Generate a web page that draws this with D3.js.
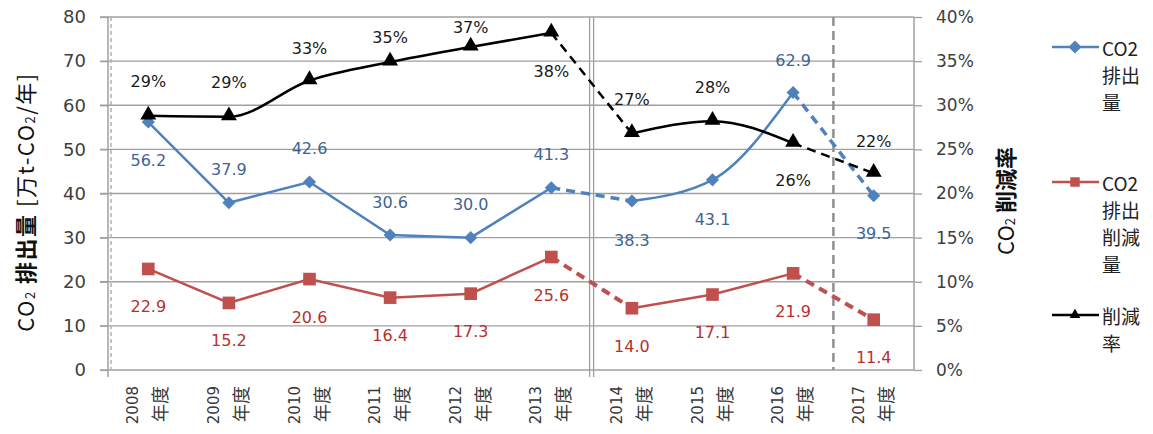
<!DOCTYPE html>
<html>
<head>
<meta charset="utf-8">
<script src="https://cdn.jsdelivr.net/npm/d3@7"></script>
<style>
  body { margin: 0; background: #fff; }
  svg { display: block; }
  .num { font-family: "DejaVu Sans", sans-serif; }
  .jp { font-family: "Noto Sans CJK JP", sans-serif; }
</style>
</head>
<body>
<svg id="chart" width="1153" height="434"></svg>
<script>
// --- data ---
const years = ['2008', '2009', '2010', '2011', '2012', '2013', '2014', '2015', '2016', '2017'];
const emission = [56.2, 37.9, 42.6, 30.6, 30.0, 41.3, 38.3, 43.1, 62.9, 39.5];   // CO2排出量
const reduction = [22.9, 15.2, 20.6, 16.4, 17.3, 25.6, 14.0, 17.1, 21.9, 11.4];  // CO2排出削減量
const rate = [28.8, 28.7, 32.8, 34.9, 36.6, 38.2, 26.8, 28.2, 25.7, 22.3];        // 削減率 (%)
const leftTicks = [0, 10, 20, 30, 40, 50, 60, 70, 80];
const rightTicks = [0, 5, 10, 15, 20, 25, 30, 35, 40];

// solid / dashed pieces of every series (index ranges)
const segments = [
    { idx: [0, 1, 2, 3, 4, 5], dashed: false },
    { idx: [5, 6], dashed: true },
    { idx: [6, 7, 8], dashed: false },
    { idx: [8, 9], dashed: true }
];

// label offsets from the marker (px)
const emissionLabelDy = [38, -33, -34, -32, -33, -33, 39, 40, -32, 38];
const reductionLabelDy = [38, 38, 38, 38, 38, 38, 38, 38, 38, 38];
const rateLabelDy = [-34, -34, -32, -25, -20, 39, -34, -34, 37, -32];

const BLUE = '#4F81BD', BLUE_TXT = '#3F6494';
const RED = '#C0504D', RED_TXT = '#B7312C';
const GRID = '#a0a0a0';

const svg = d3.select('#chart');
const plotL = 108, plotR = 914, plotT = 17, plotB = 370;

const x = d3.scalePoint().domain(years).range([plotL, plotR]).padding(0.5);
const step = x.step();
const yL = d3.scaleLinear().domain([0, 80]).range([plotB, plotT]);
const yR = d3.scaleLinear().domain([0, 40]).range([plotB, plotT]);

// grid lines
svg.append('g').selectAll('line').data(leftTicks).join('line')
    .attr('x1', plotL - 8).attr('x2', plotR)
    .attr('y1', d => yL(d)).attr('y2', d => yL(d))
    .attr('stroke', GRID).attr('stroke-width', 1.3);

// left axis
const gL = svg.append('g').attr('transform', `translate(${plotL},0)`)
    .call(d3.axisLeft(yL).tickValues(leftTicks).tickSize(8).tickPadding(14));
gL.select('.domain').attr('stroke', GRID).attr('stroke-width', 1.5).attr('d', `M0,${plotT}V${plotB + 7}`);
gL.selectAll('.tick line').attr('stroke', GRID).attr('stroke-width', 1.3);
gL.selectAll('text').attr('class', 'num').attr('font-size', 18).attr('fill', '#404040');
svg.append('line').attr('x1', plotL + 3).attr('x2', plotL + 3).attr('y1', plotT).attr('y2', plotB)
    .attr('stroke', '#b0b0b0').attr('stroke-width', 1.5).attr('stroke-dasharray', '4,3');

// right axis
const gR = svg.append('g').attr('transform', `translate(${plotR},0)`)
    .call(d3.axisRight(yR).tickValues(rightTicks).tickSize(8).tickPadding(14).tickFormat(d => d + '%'));
gR.select('.domain').attr('stroke', GRID).attr('stroke-width', 1.5).attr('d', `M0,${plotT}V${plotB}`);
gR.selectAll('.tick line').attr('stroke', GRID).attr('stroke-width', 1.3);
gR.selectAll('text').attr('class', 'num').attr('font-size', 17).attr('fill', '#404040');

// period separators
const sep1 = x('2013') + step / 2, sep2 = x('2016') + step / 2;
[-2, 2].forEach(o => {
    svg.append('line').attr('x1', sep1 + o).attr('x2', sep1 + o).attr('y1', plotT).attr('y2', plotB + 7)
        .attr('stroke', GRID).attr('stroke-width', 1.3);
});
svg.append('line').attr('x1', sep2).attr('x2', sep2).attr('y1', plotT).attr('y2', plotB)
    .attr('stroke', '#909090').attr('stroke-width', 2.5).attr('stroke-dasharray', '9,5');

// x labels: "2008" / "年度", rotated
const xl = svg.append('g');
years.forEach(yr => {
    const cx = x(yr);
    xl.append('text').attr('class', 'num')
        .attr('transform', `translate(${cx - 15},386) rotate(-90)`)
        .attr('text-anchor', 'end').attr('dominant-baseline', 'central')
        .attr('font-size', 15).attr('fill', '#383838').text(yr);
    xl.append('text').attr('class', 'jp')
        .attr('transform', `translate(${cx + 11},386) rotate(-90)`)
        .attr('text-anchor', 'end').attr('dominant-baseline', 'central')
        .attr('font-size', 18).attr('fill', '#383838').text('年度');
});

// axis titles
const tL = svg.append('text').attr('class', 'jp')
    .attr('transform', 'translate(24,202) rotate(-90)')
    .attr('text-anchor', 'middle').attr('dominant-baseline', 'central')
    .attr('font-size', 22).attr('letter-spacing', 1.5).attr('fill', '#111');
tL.append('tspan').text('CO');
tL.append('tspan').attr('font-size', 13).attr('dy', 5).text('2');
tL.append('tspan').attr('dy', -5).attr('font-weight', 'bold').text(' 排出量 ');
tL.append('tspan').text('[万t-CO');
tL.append('tspan').attr('font-size', 13).attr('dy', 5).text('2');
tL.append('tspan').attr('dy', -5).text('/年]');

const tR = svg.append('text').attr('class', 'jp')
    .attr('transform', 'translate(1004,201) rotate(-90)')
    .attr('text-anchor', 'middle').attr('dominant-baseline', 'central')
    .attr('font-size', 22).attr('fill', '#111');
tR.append('tspan').text('CO');
tR.append('tspan').attr('font-size', 13).attr('dy', 5).text('2');
tR.append('tspan').attr('dy', -5).attr('font-weight', 'bold').text(' 削減率');

// series lines
function drawSeries(values, y, color, width, dashW, curves) {
    const g = svg.append('g');
    segments.forEach((seg, s) => {
        const line = d3.line()
            .x(i => x(years[i])).y(i => y(values[i]))
            .curve(curves[s]);
        g.append('path').datum(seg.idx)
            .attr('d', line)
            .attr('fill', 'none')
            .attr('stroke', color)
            .attr('stroke-width', seg.dashed ? dashW : width)
            .attr('stroke-dasharray', seg.dashed ? '9,6' : null);
    });
    return g;
}
const lin = d3.curveLinear, mono = d3.curveMonotoneX;
drawSeries(emission, yL, BLUE, 2.5, 3.5, [lin, lin, mono, lin]);
drawSeries(reduction, yL, RED, 2.5, 4, [lin, lin, lin, lin]);
drawSeries(rate, yR, '#000', 2.5, 2.5, [mono, lin, mono, lin]);

// markers
const diamond = d3.symbol().type(d3.symbolDiamond2).size(110);
const square = d3.symbol().type(d3.symbolSquare).size(160);
const tri = d3.symbol().type(d3.symbolTriangle).size(110);

svg.append('g').selectAll('path').data(emission).join('path')
    .attr('d', diamond).attr('fill', BLUE)
    .attr('transform', (d, i) => `translate(${x(years[i])},${yL(d)})`);
svg.append('g').selectAll('path').data(reduction).join('path')
    .attr('d', square).attr('fill', RED)
    .attr('transform', (d, i) => `translate(${x(years[i])},${yL(d)})`);
svg.append('g').selectAll('path').data(rate).join('path')
    .attr('d', tri).attr('fill', '#000')
    .attr('transform', (d, i) => `translate(${x(years[i])},${yR(d) - 1})`);

// data labels
function labels(values, y, dy, fmt, color) {
    svg.append('g').selectAll('text').data(values).join('text')
        .attr('class', 'num')
        .attr('x', (d, i) => x(years[i]))
        .attr('y', (d, i) => y(d) + dy[i])
        .attr('text-anchor', 'middle').attr('dominant-baseline', 'central')
        .attr('font-size', 16).attr('fill', color)
        .text(fmt);
}
labels(emission, yL, emissionLabelDy, d => d.toFixed(1), BLUE_TXT);
labels(reduction, yL, reductionLabelDy, d => d.toFixed(1), RED_TXT);
labels(rate, yR, rateLabelDy, d => Math.round(d) + '%', '#1a1a1a');

// legend
const legend = [
    { lines: ['CO2', '排出', '量'], color: BLUE, sym: diamond, y: 47 },
    { lines: ['CO2', '排出', '削減', '量'], color: RED, sym: d3.symbol().type(d3.symbolSquare).size(90), y: 182 },
    { lines: ['削減', '率'], color: '#000', sym: d3.symbol().type(d3.symbolTriangle).size(50), y: 315 }
];
const lg = svg.append('g');
legend.forEach(it => {
    lg.append('line').attr('x1', 1052).attr('x2', 1099).attr('y1', it.y).attr('y2', it.y)
        .attr('stroke', it.color).attr('stroke-width', 2.5);
    lg.append('path').attr('d', it.sym).attr('fill', it.color)
        .attr('transform', `translate(1075,${it.y})`);
    it.lines.forEach((t, k) => {
        lg.append('text').attr('class', 'jp')
            .attr('x', 1102).attr('y', it.y + k * 27)
            .attr('dominant-baseline', 'central')
            .attr('font-size', 19).attr('fill', '#222').text(t);
    });
});
</script>
</body>
</html>
